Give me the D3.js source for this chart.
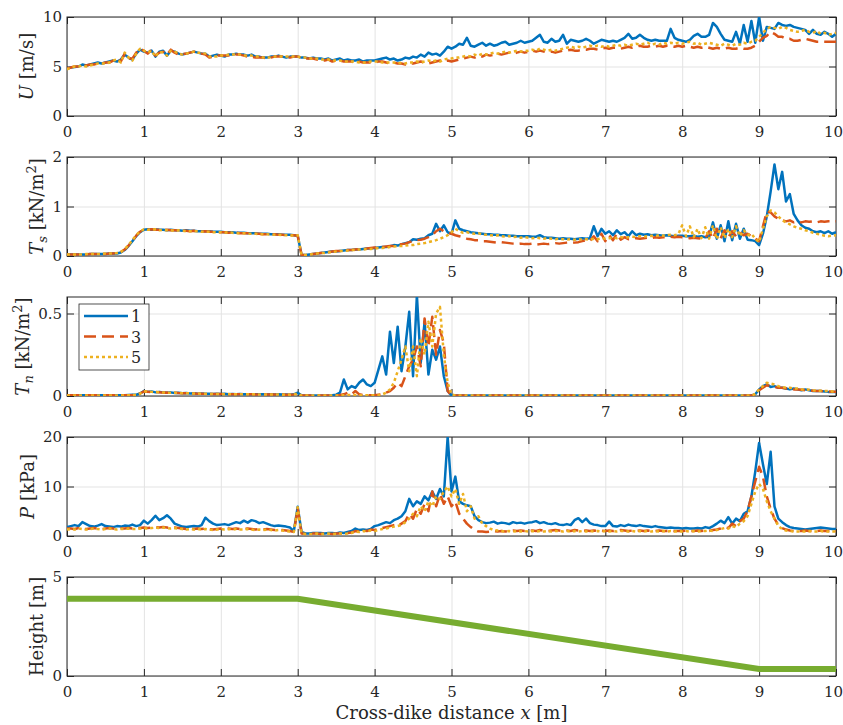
<!DOCTYPE html>
<html>
<head>
<meta charset="utf-8">
<script src="https://cdn.jsdelivr.net/npm/d3@7"></script>
<style>
body { margin: 0; background: #fff; }
text { fill: #262626; }
</style>
</head>
<body>
<script>

// sample positions along the dike, every 0.05 m
var xs = d3.range(201).map(function(i){ return Math.round(i * 5) / 100; });

var xTicks = [0,1,2,3,4,5,6,7,8,9,10];
var uTicks = [0,5,10], tsTicks = [0,1,2], tnTicks = [0,0.5], pTicks = [0,10,20], hTicks = [0,5];
var seriesNames = ["1","3","5"];

// U [m/s]
var u1 = [
 4.8,4.9,4.95,5.0,5.2,5.1,5.2,5.3,5.4,5.3,5.4,5.5,5.6,5.5,5.7,6.2,5.9,5.7,6.3,6.7,
 6.5,6.4,6.6,6.0,6.5,6.6,6.1,6.6,6.5,6.3,6.2,6.3,6.4,6.5,6.4,6.3,6.3,6.0,6.1,6.2,
 6.1,6.0,6.2,6.2,6.3,6.2,6.2,6.1,6.2,6.0,6.0,5.9,5.9,6.0,6.0,6.1,6.0,5.9,6.0,6.0,
 6.0,5.9,5.9,5.8,5.9,5.8,5.8,5.7,5.8,5.6,5.7,5.8,5.6,5.7,5.6,5.6,5.7,5.5,5.6,5.6,
 5.6,5.7,5.8,5.9,5.7,5.8,5.6,5.7,5.9,5.8,6.0,5.9,6.2,6.0,6.4,6.2,6.3,6.1,6.5,7.0,
 6.8,7.0,7.3,7.2,7.9,7.1,7.0,7.2,7.4,7.1,7.3,7.1,7.2,7.4,7.5,7.2,7.3,7.4,7.6,7.4,
 7.5,7.6,7.9,8.2,7.5,7.4,7.8,7.5,7.6,8.2,7.3,7.7,7.6,7.5,7.6,7.8,7.6,7.3,7.5,7.7,
 7.6,7.5,7.6,7.5,7.7,7.9,8.3,7.8,7.9,8.2,7.9,7.7,7.6,7.7,7.6,7.6,7.6,8.8,7.9,7.7,
 7.6,7.5,7.7,8.1,8.3,8.0,8.0,8.2,9.4,9.0,8.3,7.7,7.6,7.5,8.5,7.3,9.2,7.5,9.6,7.4,
 10.0,7.6,9.0,8.9,8.8,9.4,9.2,9.1,9.2,9.0,8.9,8.8,8.7,8.3,8.7,8.3,8.2,8.5,8.3,8.0,
 8.3];
var u3 = [
 4.8,4.9,5.0,5.0,5.1,5.1,5.2,5.2,5.3,5.3,5.4,5.4,5.6,5.8,5.5,6.3,5.8,5.8,6.4,6.8,
 6.6,6.3,6.7,6.1,6.4,6.5,6.2,6.7,6.4,6.2,6.3,6.3,6.4,6.5,6.4,6.3,6.2,5.9,6.0,6.1,
 6.1,6.1,6.1,6.2,6.2,6.2,6.1,6.0,6.0,5.9,5.9,5.9,5.8,5.9,6.0,6.0,6.0,5.9,5.9,6.0,
 6.0,5.9,5.8,5.8,5.8,5.7,5.7,5.6,5.7,5.5,5.6,5.6,5.5,5.5,5.5,5.4,5.5,5.4,5.4,5.4,
 5.4,5.5,5.5,5.4,5.3,5.4,5.3,5.3,5.2,5.3,5.3,5.4,5.5,5.4,5.3,5.4,5.5,5.6,5.5,5.6,
 5.5,5.6,5.7,5.8,5.9,6.0,5.9,6.1,6.0,6.2,6.1,6.2,6.3,6.2,6.3,6.4,6.3,6.4,6.5,6.4,
 6.5,6.6,6.5,6.6,6.5,6.4,6.5,6.4,6.5,6.6,6.6,6.7,6.6,6.6,6.7,6.7,6.8,6.8,6.7,6.8,
 6.9,6.8,6.9,6.9,6.8,6.9,7.0,6.9,7.0,7.1,7.0,7.0,7.1,7.0,7.1,7.0,7.1,7.1,7.0,7.1,
 7.0,7.1,7.0,6.9,7.0,6.9,7.0,6.9,6.8,6.9,6.8,6.8,6.9,6.8,6.8,6.9,6.8,6.8,6.9,7.1,
 7.5,7.9,8.1,8.5,8.3,8.0,8.0,7.8,7.8,7.6,7.6,7.7,7.8,7.7,7.6,7.5,7.5,7.5,7.5,7.5,
 7.5];
var u5 = [
 4.7,4.9,5.0,5.0,5.1,5.0,5.1,5.2,5.3,5.3,5.3,5.4,5.6,5.7,5.4,6.4,5.9,5.6,6.3,6.8,
 6.6,6.4,6.6,6.0,6.5,6.4,6.1,6.6,6.5,6.3,6.2,6.3,6.4,6.5,6.4,6.4,6.3,6.0,6.0,6.0,
 6.1,6.1,6.2,6.2,6.2,6.2,6.1,6.1,6.1,6.0,6.0,5.9,5.9,5.9,6.0,6.0,6.0,6.0,6.0,6.0,
 6.0,5.9,5.9,5.8,5.8,5.8,5.7,5.7,5.7,5.6,5.6,5.6,5.5,5.5,5.5,5.5,5.4,5.4,5.4,5.5,
 5.5,5.5,5.4,5.4,5.4,5.4,5.3,5.4,5.3,5.4,5.4,5.5,5.4,5.5,5.6,5.5,5.6,5.5,5.7,5.8,
 5.8,5.9,5.9,6.0,6.1,6.0,6.2,6.1,6.3,6.2,6.3,6.4,6.3,6.4,6.5,6.4,6.5,6.6,6.5,6.6,
 6.6,6.7,6.6,6.8,6.7,6.6,6.7,6.6,6.7,6.8,6.9,7.0,6.9,7.0,6.9,7.0,7.1,7.0,7.1,7.0,
 7.1,7.0,7.1,7.2,7.1,7.2,7.1,7.2,7.3,7.2,7.3,7.4,7.2,7.3,7.2,7.4,7.3,7.4,7.3,7.4,
 7.3,7.4,7.5,7.3,7.4,7.2,7.3,7.4,7.3,7.2,7.1,7.3,7.2,7.1,7.3,7.2,7.4,7.3,7.5,7.6,
 8.0,8.4,8.8,9.0,8.9,8.8,9.0,8.9,8.7,8.6,8.5,8.6,8.7,8.5,8.4,8.6,8.3,8.4,8.2,8.3,
 8.4];

// Ts [kN/m2]
var ts1 = [
 0.03,0.03,0.03,0.03,0.03,0.03,0.04,0.04,0.04,0.04,0.04,0.05,0.05,0.05,0.07,0.12,0.2,0.3,0.4,0.48,
 0.53,0.54,0.53,0.54,0.53,0.53,0.52,0.53,0.52,0.52,0.51,0.52,0.51,0.51,0.5,0.5,0.5,0.5,0.49,0.49,
 0.49,0.48,0.48,0.48,0.47,0.47,0.47,0.46,0.46,0.46,0.45,0.45,0.45,0.44,0.44,0.44,0.43,0.43,0.43,0.42,
 0.41,0.02,0.02,0.03,0.04,0.05,0.06,0.07,0.08,0.09,0.09,0.1,0.11,0.12,0.12,0.13,0.13,0.14,0.15,0.15,
 0.16,0.17,0.18,0.18,0.2,0.22,0.21,0.24,0.26,0.28,0.34,0.33,0.35,0.36,0.42,0.45,0.65,0.5,0.62,0.48,
 0.45,0.72,0.55,0.52,0.5,0.48,0.47,0.46,0.45,0.44,0.44,0.43,0.43,0.42,0.42,0.41,0.41,0.4,0.4,0.4,
 0.4,0.39,0.39,0.42,0.38,0.37,0.37,0.36,0.35,0.36,0.35,0.35,0.34,0.35,0.36,0.35,0.36,0.6,0.4,0.55,
 0.45,0.5,0.42,0.52,0.44,0.48,0.4,0.5,0.42,0.45,0.43,0.44,0.42,0.43,0.42,0.41,0.42,0.41,0.4,0.41,
 0.41,0.4,0.4,0.41,0.39,0.4,0.38,0.39,0.68,0.35,0.62,0.3,0.7,0.32,0.65,0.35,0.55,0.33,0.32,0.3,
 0.22,0.45,0.8,1.3,1.85,1.35,1.7,1.1,1.25,0.85,0.72,0.62,0.57,0.55,0.5,0.48,0.5,0.46,0.5,0.45,
 0.48];
var ts3 = [
 0.03,0.03,0.03,0.03,0.03,0.03,0.04,0.04,0.04,0.04,0.04,0.05,0.05,0.06,0.08,0.13,0.21,0.31,0.41,0.49,
 0.53,0.53,0.54,0.53,0.53,0.52,0.53,0.52,0.52,0.51,0.51,0.51,0.5,0.51,0.5,0.49,0.5,0.49,0.49,0.48,
 0.48,0.48,0.47,0.48,0.47,0.46,0.46,0.46,0.45,0.45,0.45,0.44,0.44,0.43,0.44,0.43,0.43,0.42,0.42,0.42,
 0.41,0.02,0.02,0.03,0.04,0.05,0.06,0.07,0.08,0.09,0.1,0.1,0.11,0.12,0.12,0.13,0.14,0.14,0.15,0.16,
 0.17,0.17,0.18,0.19,0.2,0.2,0.22,0.24,0.25,0.28,0.3,0.32,0.33,0.35,0.38,0.42,0.5,0.55,0.5,0.47,
 0.45,0.42,0.4,0.38,0.35,0.34,0.32,0.32,0.3,0.3,0.29,0.28,0.27,0.28,0.27,0.26,0.25,0.24,0.25,0.24,
 0.24,0.25,0.23,0.24,0.25,0.24,0.25,0.26,0.25,0.26,0.27,0.28,0.27,0.28,0.3,0.32,0.3,0.4,0.3,0.45,
 0.3,0.42,0.32,0.45,0.33,0.38,0.34,0.35,0.36,0.35,0.36,0.37,0.36,0.38,0.37,0.38,0.38,0.39,0.38,0.39,
 0.38,0.37,0.36,0.37,0.36,0.35,0.36,0.5,0.35,0.55,0.36,0.52,0.38,0.5,0.4,0.48,0.42,0.45,0.4,0.35,
 0.3,0.6,0.9,0.88,0.8,0.75,0.72,0.7,0.72,0.68,0.7,0.68,0.7,0.69,0.7,0.68,0.7,0.69,0.7,0.7,
 0.7];
var ts5 = [
 0.03,0.03,0.03,0.03,0.03,0.04,0.04,0.04,0.04,0.04,0.05,0.05,0.05,0.06,0.08,0.14,0.22,0.32,0.42,0.5,
 0.54,0.53,0.53,0.54,0.52,0.53,0.52,0.52,0.51,0.52,0.51,0.5,0.5,0.5,0.5,0.49,0.49,0.49,0.48,0.48,
 0.48,0.47,0.48,0.47,0.46,0.46,0.46,0.45,0.45,0.45,0.44,0.44,0.44,0.43,0.43,0.43,0.42,0.42,0.42,0.41,
 0.42,0.02,0.02,0.03,0.04,0.05,0.06,0.06,0.07,0.08,0.09,0.1,0.1,0.11,0.12,0.12,0.13,0.13,0.14,0.14,
 0.15,0.16,0.16,0.17,0.18,0.19,0.2,0.2,0.21,0.22,0.22,0.24,0.25,0.26,0.28,0.3,0.32,0.35,0.38,0.42,
 0.48,0.55,0.5,0.47,0.48,0.46,0.45,0.46,0.44,0.43,0.42,0.41,0.42,0.4,0.39,0.4,0.38,0.39,0.37,0.38,
 0.37,0.36,0.37,0.36,0.35,0.36,0.35,0.34,0.35,0.34,0.33,0.34,0.33,0.34,0.33,0.34,0.33,0.35,0.34,0.36,
 0.35,0.36,0.37,0.36,0.38,0.37,0.38,0.39,0.38,0.4,0.39,0.4,0.41,0.4,0.42,0.41,0.42,0.43,0.42,0.44,
 0.62,0.4,0.6,0.38,0.55,0.36,0.58,0.35,0.62,0.34,0.58,0.36,0.55,0.38,0.6,0.4,0.52,0.42,0.45,0.35,
 0.28,0.55,0.8,0.92,0.88,0.8,0.72,0.68,0.64,0.6,0.57,0.55,0.52,0.5,0.47,0.45,0.43,0.41,0.4,0.41,
 0.42];

// Tn [kN/m2]
var tn1 = [
 0.005,0.005,0.005,0.005,0.005,0.005,0.005,0.005,0.005,0.005,0.005,0.005,0.005,0.005,0.005,0.005,0.006,0.007,0.008,0.015,
 0.03,0.025,0.028,0.022,0.025,0.022,0.02,0.022,0.018,0.02,0.017,0.018,0.015,0.016,0.014,0.015,0.013,0.014,0.012,0.013,
 0.012,0.013,0.011,0.012,0.011,0.012,0.01,0.011,0.01,0.011,0.01,0.01,0.009,0.01,0.009,0.01,0.009,0.009,0.008,0.01,
 0.02,0.004,0.003,0.003,0.003,0.003,0.003,0.003,0.003,0.004,0.008,0.02,0.1,0.04,0.06,0.05,0.08,0.1,0.07,0.06,
 0.08,0.16,0.24,0.13,0.39,0.2,0.42,0.15,0.3,0.51,0.12,0.61,0.2,0.45,0.13,0.28,0.22,0.3,0.12,0.03,
 0.003,0.003,0.003,0.003,0.003,0.003,0.003,0.003,0.003,0.003,0.003,0.003,0.003,0.003,0.003,0.003,0.003,0.003,0.003,0.003,
 0.003,0.003,0.003,0.003,0.003,0.003,0.003,0.003,0.003,0.003,0.003,0.003,0.003,0.003,0.003,0.003,0.003,0.003,0.003,0.003,
 0.003,0.003,0.003,0.003,0.003,0.003,0.003,0.003,0.003,0.003,0.003,0.003,0.003,0.003,0.003,0.003,0.003,0.003,0.003,0.003,
 0.003,0.003,0.003,0.003,0.003,0.003,0.003,0.003,0.003,0.003,0.003,0.003,0.003,0.003,0.003,0.003,0.003,0.003,0.003,0.01,
 0.04,0.06,0.07,0.055,0.06,0.05,0.05,0.045,0.04,0.045,0.04,0.035,0.04,0.035,0.03,0.03,0.03,0.028,0.025,0.025,
 0.025];
var tn3 = [
 0.004,0.004,0.004,0.004,0.004,0.004,0.004,0.004,0.004,0.004,0.004,0.004,0.004,0.004,0.004,0.004,0.005,0.006,0.008,0.015,
 0.028,0.026,0.024,0.025,0.022,0.02,0.021,0.019,0.02,0.018,0.017,0.016,0.016,0.015,0.014,0.014,0.013,0.013,0.012,0.012,
 0.012,0.011,0.011,0.011,0.01,0.011,0.01,0.01,0.01,0.009,0.01,0.009,0.009,0.009,0.009,0.008,0.009,0.008,0.008,0.009,
 0.012,0.003,0.003,0.003,0.003,0.003,0.003,0.003,0.003,0.003,0.004,0.006,0.01,0.02,0.01,0.03,0.01,0.006,0.005,0.004,
 0.005,0.008,0.01,0.02,0.03,0.05,0.08,0.06,0.12,0.18,0.22,0.3,0.18,0.47,0.3,0.48,0.25,0.4,0.32,0.03,
 0.003,0.003,0.003,0.003,0.003,0.003,0.003,0.003,0.003,0.003,0.003,0.003,0.003,0.003,0.003,0.003,0.003,0.003,0.003,0.003,
 0.003,0.003,0.003,0.003,0.003,0.003,0.003,0.003,0.003,0.003,0.003,0.003,0.003,0.003,0.003,0.003,0.003,0.003,0.003,0.003,
 0.003,0.003,0.003,0.003,0.003,0.003,0.003,0.003,0.003,0.003,0.003,0.003,0.003,0.003,0.003,0.003,0.003,0.003,0.003,0.003,
 0.003,0.003,0.003,0.003,0.003,0.003,0.003,0.003,0.003,0.003,0.003,0.003,0.003,0.003,0.003,0.003,0.003,0.003,0.003,0.008,
 0.035,0.05,0.065,0.06,0.055,0.05,0.05,0.045,0.045,0.04,0.04,0.038,0.035,0.035,0.032,0.03,0.03,0.028,0.028,0.026,
 0.025];
var tn5 = [
 0.003,0.003,0.003,0.003,0.003,0.003,0.003,0.003,0.003,0.003,0.003,0.003,0.003,0.003,0.003,0.003,0.004,0.005,0.007,0.014,
 0.029,0.027,0.025,0.024,0.023,0.021,0.02,0.02,0.019,0.018,0.017,0.017,0.016,0.015,0.015,0.014,0.013,0.013,0.012,0.012,
 0.012,0.011,0.012,0.011,0.011,0.01,0.011,0.01,0.01,0.01,0.009,0.01,0.009,0.009,0.009,0.009,0.008,0.009,0.008,0.009,
 0.015,0.003,0.003,0.003,0.003,0.003,0.003,0.003,0.003,0.003,0.003,0.004,0.005,0.006,0.005,0.006,0.005,0.004,0.004,0.004,
 0.004,0.005,0.01,0.02,0.04,0.08,0.15,0.22,0.3,0.15,0.3,0.12,0.35,0.25,0.45,0.3,0.5,0.54,0.25,0.08,
 0.01,0.003,0.003,0.003,0.003,0.003,0.003,0.003,0.003,0.003,0.003,0.003,0.003,0.003,0.003,0.003,0.003,0.003,0.003,0.003,
 0.003,0.003,0.003,0.003,0.003,0.003,0.003,0.003,0.003,0.003,0.003,0.003,0.003,0.003,0.003,0.003,0.003,0.003,0.003,0.003,
 0.003,0.003,0.003,0.003,0.003,0.003,0.003,0.003,0.003,0.003,0.003,0.003,0.003,0.003,0.003,0.003,0.003,0.003,0.003,0.003,
 0.003,0.003,0.003,0.003,0.003,0.003,0.003,0.003,0.003,0.003,0.003,0.003,0.003,0.003,0.003,0.003,0.003,0.003,0.003,0.012,
 0.04,0.06,0.08,0.075,0.07,0.06,0.055,0.05,0.05,0.045,0.045,0.04,0.04,0.038,0.035,0.033,0.032,0.03,0.03,0.028,
 0.028];

// P [kPa]
var p1 = [
 1.8,2.0,2.2,2.0,2.8,2.4,2.0,1.9,2.1,2.4,2.0,1.9,1.8,2.0,1.9,2.1,2.0,2.3,2.0,2.2,
 3.1,2.5,3.2,4.1,3.2,3.6,4.2,3.5,2.5,2.2,1.9,1.8,1.9,2.0,1.9,2.2,3.7,3.0,2.5,2.2,
 2.3,2.4,2.2,2.5,2.8,2.6,3.1,2.7,3.2,3.0,2.6,2.8,2.5,2.2,2.0,2.1,2.0,1.9,1.7,1.0,
 5.9,0.8,0.5,0.5,0.6,0.6,0.6,0.5,0.6,0.6,0.5,0.7,0.6,0.8,1.0,1.5,1.2,1.3,1.2,1.4,
 2.0,2.2,2.5,2.8,2.6,3.2,3.5,4.0,5.0,7.5,6.0,7.0,6.5,8.0,7.2,9.0,7.5,9.5,8.0,20.0,
 9.0,12.0,7.0,6.5,6.2,6.0,4.0,3.2,2.8,2.6,2.7,2.9,2.5,2.7,2.6,2.4,2.8,2.6,2.7,2.5,
 2.7,2.8,3.0,2.6,2.8,2.5,2.4,2.6,2.3,2.2,2.4,2.2,3.2,3.6,2.8,3.5,2.6,2.3,2.2,2.0,
 2.0,2.9,2.0,1.9,2.2,2.0,2.3,2.1,2.0,2.2,2.0,1.9,1.8,2.0,1.8,1.7,1.6,1.7,1.6,1.6,
 1.5,1.6,1.5,1.5,1.6,1.5,1.8,1.6,2.0,2.5,3.1,2.6,3.8,2.5,3.5,3.0,4.5,5.0,8.0,13.0,
 18.8,14.5,10.5,17.0,6.0,3.5,2.8,2.2,1.8,1.6,1.5,1.4,1.3,1.4,1.5,1.6,1.7,1.6,1.5,1.4,
 1.4];
var p3 = [
 1.5,1.5,1.4,1.6,1.5,1.4,1.5,1.6,1.5,1.4,1.5,1.6,1.5,1.4,1.5,1.5,1.6,1.5,1.5,1.6,
 1.7,1.6,1.7,1.8,1.7,1.8,1.7,1.6,1.7,1.6,1.5,1.4,1.5,1.4,1.5,1.4,1.5,1.4,1.3,1.4,
 1.5,1.4,1.5,1.4,1.5,1.4,1.4,1.5,1.4,1.3,1.4,1.3,1.4,1.3,1.2,1.3,1.2,1.1,1.0,0.8,
 5.5,0.5,0.4,0.4,0.5,0.5,0.4,0.5,0.5,0.4,0.5,0.5,0.4,0.6,0.7,1.0,0.9,1.2,1.0,1.3,
 1.2,1.4,1.6,1.8,2.0,2.2,2.0,2.5,3.0,4.5,3.5,5.5,4.5,6.5,5.0,9.0,6.0,8.5,6.5,8.0,
 6.0,7.0,4.5,3.5,2.5,1.8,1.2,0.9,0.9,0.8,0.9,1.0,0.9,1.0,0.9,1.0,1.1,1.0,1.1,1.0,
 1.0,1.1,1.0,1.2,1.1,1.0,1.1,1.2,1.1,1.0,1.1,1.0,1.2,1.1,1.0,1.1,1.0,1.1,1.0,1.1,
 1.0,1.1,1.0,1.1,1.2,1.1,1.0,1.1,1.0,1.1,1.0,1.1,1.0,1.0,1.1,1.0,1.0,1.1,1.0,1.0,
 1.0,1.1,1.0,1.0,1.1,1.0,1.1,1.0,1.2,1.3,1.5,1.8,1.6,2.5,2.0,3.0,3.5,5.0,8.0,11.0,
 14.0,12.0,8.0,5.5,3.5,2.2,1.6,1.3,1.1,1.0,1.0,1.0,1.1,1.0,1.0,1.0,1.1,1.0,1.0,1.0,
 1.0];
var p5 = [
 1.3,1.4,1.3,1.5,1.4,1.3,1.4,1.5,1.4,1.3,1.4,1.5,1.4,1.3,1.4,1.4,1.5,1.4,1.4,1.5,
 1.6,1.5,1.6,1.7,1.6,1.7,1.6,1.5,1.6,1.5,1.4,1.3,1.4,1.3,1.4,1.3,1.4,1.3,1.2,1.3,
 1.4,1.3,1.4,1.3,1.4,1.3,1.3,1.4,1.3,1.2,1.3,1.2,1.3,1.2,1.1,1.2,1.1,1.0,0.9,0.8,
 5.8,0.5,0.4,0.4,0.4,0.5,0.4,0.4,0.5,0.4,0.4,0.5,0.4,0.5,0.6,0.9,0.8,1.0,0.9,1.1,
 1.0,1.2,1.4,1.5,1.7,1.9,2.0,2.2,2.8,3.5,4.5,4.0,6.0,5.0,7.0,6.0,8.0,7.5,9.0,10.0,
 8.0,9.5,6.5,8.5,5.0,6.0,3.5,4.0,2.5,2.0,1.5,1.2,1.1,1.0,0.9,1.0,0.9,1.0,0.9,1.0,
 0.9,1.0,0.9,1.0,0.9,1.0,0.9,1.0,1.0,0.9,1.0,0.9,1.0,0.9,1.0,0.9,1.0,0.9,1.0,0.9,
 1.0,0.9,1.0,0.9,1.0,1.0,0.9,1.0,0.9,1.0,0.9,1.0,0.9,1.0,0.9,1.0,0.9,1.0,0.9,1.0,
 0.9,1.0,0.9,1.0,0.9,1.0,1.0,1.1,1.0,1.2,1.4,1.6,1.5,2.0,1.8,2.5,3.0,4.0,6.5,9.0,
 10.5,9.5,7.0,5.0,3.5,2.0,1.4,1.1,1.0,0.9,0.9,0.9,0.9,1.0,0.9,0.9,1.0,0.9,0.9,0.9,
 0.9];

// dike profile
var hx = [0, 3, 9, 10];
var hy = [3.9, 3.9, 0.35, 0.35];

[["u1",u1],["u3",u3],["u5",u5],["ts1",ts1],["ts3",ts3],["ts5",ts5],["tn1",tn1],["tn3",tn3],["tn5",tn5],["p1",p1],["p3",p3],["p5",p5]]
  .forEach(function(s){ if (s[1].length !== xs.length) throw new Error("bad length " + s[0] + " " + s[1].length); });

var width = 843, height = 725;
var left = 67, right = 836, ph = 99;
var colors = ["#0072BD", "#D95319", "#EDB120"];
var dashes = [null, "12,6", "3,3"];
var axisColor = "#262626";
var serif = "DejaVu Serif";
var tickSize = 15, labSize = 18;

var svg = d3.select("body").append("svg")
  .attr("width", width).attr("height", height)
  .attr("font-family", serif);

var x = d3.scaleLinear().domain([0, 10]).range([left, right]);

var panels = [
  {top: 17,  dom: [0, 10],  ticks: uTicks,  data: [u1, u3, u5],    lx: 27,
   lab: [["U", 1], [" [m/s]", 0]]},
  {top: 157, dom: [0, 2],   ticks: tsTicks, data: [ts1, ts3, ts5], lx: 37,
   lab: [["T", 1], ["s", 1, "sub"], [" [kN/m", 0], ["2", 0, "sup"], ["]", 0]]},
  {top: 297, dom: [0, 0.6], ticks: tnTicks, data: [tn1, tn3, tn5], lx: 23,
   lab: [["T", 1], ["n", 1, "sub"], [" [kN/m", 0], ["2", 0, "sup"], ["]", 0]]},
  {top: 437, dom: [0, 20],  ticks: pTicks,  data: [p1, p3, p5],    lx: 28,
   lab: [["P", 1], [" [kPa]", 0]]},
  {top: 577, dom: [0, 5],   ticks: hTicks,  data: null,            lx: 37,
   lab: [["Height [m]", 0]]}
];

function plain(d){ return String(d); }

function styleAxis(sel){
  sel.select(".domain").remove();
  sel.attr("font-family", serif).attr("font-size", tickSize).attr("color", axisColor);
  sel.selectAll("text").attr("fill", axisColor);
}

panels.forEach(function(p, pi){
  var bottom = p.top + ph;
  var y = d3.scaleLinear().domain(p.dom).range([bottom, p.top]);
  var g = svg.append("g");

  // grid
  g.append("g").attr("transform", "translate(0," + bottom + ")")
    .call(d3.axisBottom(x).tickValues(xTicks).tickSize(-ph).tickFormat(""))
    .call(function(s){ s.select(".domain").remove(); s.selectAll("line").attr("stroke", "#e3e3e3"); });
  g.append("g").attr("transform", "translate(" + left + ",0)")
    .call(d3.axisLeft(y).tickValues(p.ticks).tickSize(-(right - left)).tickFormat(""))
    .call(function(s){ s.select(".domain").remove(); s.selectAll("line").attr("stroke", "#e3e3e3"); });

  // box
  g.append("rect")
    .attr("x", left).attr("y", p.top)
    .attr("width", right - left).attr("height", ph)
    .attr("fill", "none").attr("stroke", axisColor).attr("stroke-width", 1);

  // ticks pointing inward, all four sides
  var xb = g.append("g").attr("transform", "translate(0," + bottom + ")")
    .call(d3.axisBottom(x).tickValues(xTicks).tickSize(-7).tickPadding(10).tickFormat(plain))
    .call(styleAxis);
  // keep the last label inside the page
  xb.selectAll(".tick text").filter(function(d){ return d === 10; }).attr("dx", -3);
  g.append("g").attr("transform", "translate(0," + p.top + ")")
    .call(d3.axisTop(x).tickValues(xTicks).tickSize(-7).tickFormat(""))
    .call(styleAxis);
  g.append("g").attr("transform", "translate(" + left + ",0)")
    .call(d3.axisLeft(y).tickValues(p.ticks).tickSize(-7).tickPadding(5).tickFormat(plain))
    .call(styleAxis);
  g.append("g").attr("transform", "translate(" + right + ",0)")
    .call(d3.axisRight(y).tickValues(p.ticks).tickSize(-7).tickFormat(""))
    .call(styleAxis);

  // clip
  svg.append("clipPath").attr("id", "clip" + pi)
    .append("rect").attr("x", left).attr("y", p.top)
    .attr("width", right - left).attr("height", ph);

  var lines = g.append("g").attr("clip-path", "url(#clip" + pi + ")");

  if (p.data) {
    p.data.forEach(function(vals, si){
      var line = d3.line()
        .x(function(d, i){ return x(xs[i]); })
        .y(function(d){ return y(d); });
      lines.append("path")
        .datum(vals)
        .attr("d", line)
        .attr("fill", "none")
        .attr("stroke", colors[si])
        .attr("stroke-width", 2.5)
        .attr("stroke-linejoin", "round")
        .attr("stroke-dasharray", dashes[si]);
    });
  } else {
    var hline = d3.line()
      .x(function(d, i){ return x(hx[i]); })
      .y(function(d){ return y(d); });
    lines.append("path")
      .datum(hy)
      .attr("d", hline)
      .attr("fill", "none")
      .attr("stroke", "#77AC30")
      .attr("stroke-width", 6);
  }

  // y label
  var t = svg.append("text")
    .attr("transform", "translate(" + (p.lx + 6) + "," + (p.top + ph / 2) + ") rotate(-90)")
    .attr("text-anchor", "middle")
    .attr("font-family", serif)
    .attr("font-size", labSize);
  var shift = 0;
  p.lab.forEach(function(part){
    var ts = t.append("tspan").text(part[0]);
    if (part[1]) ts.attr("font-style", "italic");
    var dy = 0;
    if (part[2] === "sub") { dy = 4; ts.attr("font-size", 13); }
    if (part[2] === "sup") { dy = -7; ts.attr("font-size", 13); }
    if (dy - shift !== 0) ts.attr("dy", dy - shift);
    shift = dy;
  });

  // legend in the Tn panel
  if (pi === 2) {
    var lg = svg.append("g");
    lg.append("rect")
      .attr("x", 79).attr("y", 304).attr("width", 70).attr("height", 66)
      .attr("fill", "#fff").attr("stroke", axisColor).attr("stroke-width", 0.8);
    seriesNames.forEach(function(name, si){
      var ly = 316 + si * 20.5;
      lg.append("line")
        .attr("x1", 84).attr("x2", 128).attr("y1", ly).attr("y2", ly)
        .attr("stroke", colors[si]).attr("stroke-width", 2.5)
        .attr("stroke-dasharray", dashes[si]);
      lg.append("text")
        .attr("x", 131).attr("y", ly + 6)
        .attr("font-family", serif)
        .attr("font-size", 16)
        .text(name);
    });
  }
});

// x label
var xl = svg.append("text")
  .attr("x", (left + right) / 2).attr("y", 719)
  .attr("text-anchor", "middle")
  .attr("font-family", serif)
  .attr("font-size", labSize);
xl.append("tspan").text("Cross-dike distance ");
xl.append("tspan").attr("font-style", "italic").text("x");
xl.append("tspan").text(" [m]");

</script>
</body>
</html>
